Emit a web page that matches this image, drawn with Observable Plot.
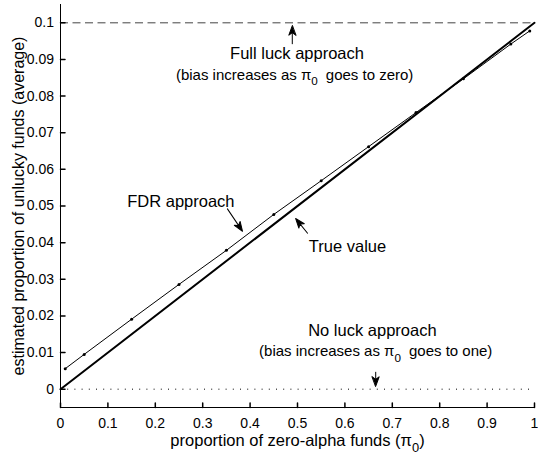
<!DOCTYPE html>
<html><head><meta charset="utf-8">
<script src="https://cdn.jsdelivr.net/npm/d3@7"></script>
<script src="https://cdn.jsdelivr.net/npm/@observablehq/plot@0.6"></script>
<style>
html,body{margin:0;padding:0;background:#fff;}
</style>
</head><body><div id="chart"></div>
<script>
// ---- data ----
const xDomain = [0, 1];
const yDomain = [-0.005, 0.105];
const pi0 = [0.01, 0.05, 0.15, 0.25, 0.35, 0.45, 0.55, 0.65, 0.75, 0.85, 0.95, 0.99];
const fdrEstimate = [0.0056, 0.0095, 0.0191, 0.0286, 0.0379, 0.0477, 0.0569, 0.0662, 0.0755, 0.0847, 0.0942, 0.0978];
const truePi0 = [0, 1];
const trueProportion = [0, 0.1];
const fullLuckLevel = [0.1];
const noLuckLevel = [0];
const xTickValues = [0, 0.1, 0.2, 0.3, 0.4, 0.5, 0.6, 0.7, 0.8, 0.9, 1];
const yTickValues = [0, 0.01, 0.02, 0.03, 0.04, 0.05, 0.06, 0.07, 0.08, 0.09, 0.1];
const xLabel = "proportion of zero-alpha funds (π₀)";
const yLabel = "estimated proportion of unlucky funds (average)";

// annotations (text anchored at baseline centre, in data units)
const noteText = ["Full luck approach", "(bias increases as π₀ goes to zero)", "FDR approach", "True value", "No luck approach", "(bias increases as π₀ goes to one)"];
const noteX = [0.499, 0.494, 0.254, 0.6055, 0.658, 0.665];
const noteY = [0.0901, 0.0845, 0.0497, 0.0374, 0.0144, 0.0090];
const noteSize = [16.5, 15, 16.5, 16.5, 16.5, 15];

// arrows: tip position (data), length (px), direction (deg, clockwise from up)
const arrowTipX = [0.489, 0.384, 0.496, 0.665];
const arrowTipY = [0.0992, 0.0431, 0.0466, 0.0008];
const arrowLength = [18, 27, 19, 14];
const arrowAngle = [0, 146, -39, 180];

// ---- tables ----
const fdr = pi0.map((p, i) => ({p, v: fdrEstimate[i]}));
const truth = truePi0.map((p, i) => ({p, v: trueProportion[i]}));
const notes = noteText.map((t, i) => ({t, x: noteX[i], y: noteY[i], s: noteSize[i]}));
const arrows = arrowTipX.map((x, i) => ({x, y: arrowTipY[i], l: arrowLength[i], a: arrowAngle[i]}));

const tickShape = {draw(ctx, l) { ctx.moveTo(0, 0); ctx.lineTo(0, -l); }};
const headShape = {draw(ctx, l) {
  ctx.moveTo(0, 0); ctx.lineTo(0, -l + 5);
  ctx.moveTo(0, -l); ctx.lineTo(-3.5, -l + 9.5); ctx.lineTo(0, -l + 7); ctx.lineTo(3.5, -l + 9.5); ctx.closePath();
}};

const font = "'Liberation Sans', Arial, Helvetica, sans-serif";
const fmt = d => String(+d.toFixed(3));

const chart = Plot.plot({
  width: 538, height: 462,
  marginTop: 4, marginRight: 4, marginBottom: 55, marginLeft: 60,
  x: {domain: xDomain},
  y: {domain: yDomain},
  style: {fontFamily: font, fontSize: "14px", background: "#fff", color: "#000", overflow: "visible"},
  marks: [
    Plot.ruleY(noLuckLevel, {stroke: "#000", strokeWidth: 1, strokeDasharray: "1,6.2"}),
    Plot.ruleY(fullLuckLevel, {stroke: "#444", strokeWidth: 1, strokeDasharray: "8,4.5"}),
    Plot.line(truth, {x: "p", y: "v", stroke: "#000", strokeWidth: 2}),
    Plot.line(fdr, {x: "p", y: "v", stroke: "#000", strokeWidth: 1}),
    Plot.dot(fdr, {x: "p", y: "v", r: 1.5, fill: "#000", stroke: null}),
    Plot.ruleX([xDomain[0]], {stroke: "#000"}),
    Plot.ruleY([yDomain[0]], {stroke: "#000"}),
    Plot.vector(xTickValues, {x: d => d, frameAnchor: "bottom", length: 4.5, shape: tickShape, anchor: "start", stroke: "#000"}),
    Plot.vector(yTickValues, {y: d => d, frameAnchor: "left", rotate: 90, length: 4.5, shape: tickShape, anchor: "start", stroke: "#000"}),
    Plot.axisX(xTickValues, {tickSize: 0, tickPadding: 11, tickFormat: fmt, fontSize: 14, label: null}),
    Plot.axisY(yTickValues, {tickSize: 0, tickPadding: 6.5, tickFormat: fmt, fontSize: 14, label: null}),
    Plot.text([xLabel], {text: d => d, frameAnchor: "bottom", textAnchor: "middle", dy: 38, lineAnchor: "bottom", fontSize: 16.5}),
    Plot.text([yLabel], {text: d => d, frameAnchor: "left", textAnchor: "middle", dx: -37, rotate: -90, lineAnchor: "bottom", fontSize: 16}),
    Plot.text(notes, {x: "x", y: "y", text: "t", fontSize: "s", lineAnchor: "bottom", fill: "#000"}),
    ...arrows.map(a => Plot.vector([a], {x: "x", y: "y", rotate: "a", length: a.l, shape: headShape, anchor: "end", stroke: "#000", fill: "#000", strokeWidth: 1}))
  ]
});
document.getElementById("chart").appendChild(chart);

// subscript for π₀
chart.querySelectorAll("text").forEach(t => {
  if (!t.textContent.includes("₀")) return;
  const fs = parseFloat(getComputedStyle(t).fontSize) || 15;
  const [a, b] = t.textContent.split("₀");
  t.textContent = "";
  const ns = "http://www.w3.org/2000/svg";
  const t1 = document.createElementNS(ns, "tspan"); t1.textContent = a; t.appendChild(t1);
  const t2 = document.createElementNS(ns, "tspan"); t2.textContent = "0";
  t2.setAttribute("dy", (0.38 * fs).toFixed(1)); t2.setAttribute("font-size", (0.78 * fs).toFixed(1)); t.appendChild(t2);
  const t3 = document.createElementNS(ns, "tspan"); t3.textContent = b;
  t3.setAttribute("dy", (-0.38 * fs).toFixed(1));
  if (b.startsWith(" ")) t3.setAttribute("dx", (0.25 * fs).toFixed(1));
  t.appendChild(t3);
});
</script>
</body></html>
